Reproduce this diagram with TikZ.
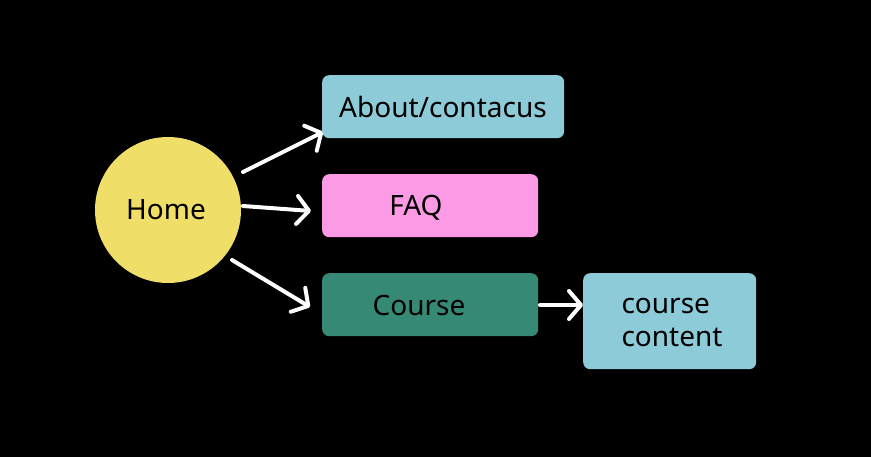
\documentclass[tikz,border=0pt]{standalone}
\usepackage{fontspec}
\setmainfont{Noto Sans}
\usetikzlibrary{arrows.meta}
\definecolor{homeY}{HTML}{EFDF69}
\definecolor{boxBlue}{HTML}{8ECBD8}
\definecolor{boxPink}{HTML}{FD9AE6}
\definecolor{boxGreen}{HTML}{368A75}
\tikzset{
  box/.style={rectangle, rounded corners=7pt, inner sep=0pt, anchor=north west},
  lbl/.style={font=\fontsize{28}{33}\selectfont, text=black},
  link/.style={draw=white, line width=4pt, line cap=round,
    -{Straight Barb[length=12pt,width=28pt,line width=4pt,round]}},
}
\begin{document}
\begin{tikzpicture}[x=1pt,y=-1pt]
\fill[black] (0,0) rectangle (871,457);
\useasboundingbox (0,0) rectangle (871,457);
\node[circle, fill=homeY, minimum size=146pt, inner sep=0pt] (home) at (168,210) {};
\node[lbl] (homet) at (166,210) {Home};
\node[box, fill=boxBlue, minimum width=242pt, minimum height=63pt] (about) at (322,75) {};
\node[lbl] (aboutt) at (443,107) {About/contacus};
\node[box, fill=boxPink, minimum width=216pt, minimum height=63pt] (faq) at (322,174) {};
\node[lbl] (faqt) at (416,208) {FAQ};
\node[box, fill=boxGreen, minimum width=216pt, minimum height=63pt] (course) at (322,273) {};
\node[lbl] (courset) at (419,306) {Course};
\node[box, fill=boxBlue, minimum width=173pt, minimum height=96pt] (cc) at (583,273) {};
\node[lbl, align=left, anchor=west] (cct) at (618,322) {course\\content};
\coordinate (s1) at (243,172);
\coordinate (e1) at (323,132);
\coordinate (s2) at (243,206);
\coordinate (e2) at (311,211);
\coordinate (s3) at (232,260);
\coordinate (e3) at (310,307);
\coordinate (s4) at (540,305);
\coordinate (e4) at (583,305);
\draw[link] (s1) -- (e1);
\draw[link] (s2) -- (e2);
\draw[link] (s3) -- (e3);
\draw[link] (s4) -- (e4);
\end{tikzpicture}
\end{document}
